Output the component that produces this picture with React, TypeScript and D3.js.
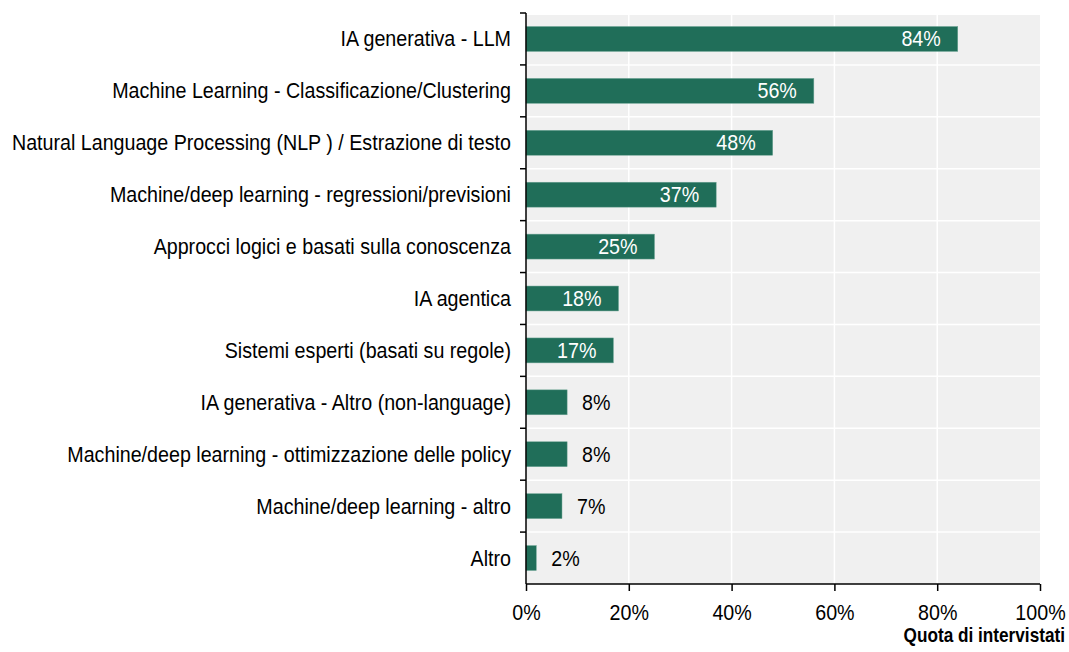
import React, { useEffect, useRef } from 'react';
import * as d3 from 'd3';

const categories = [
  'IA generativa - LLM',
  'Machine Learning - Classificazione/Clustering',
  'Natural Language Processing (NLP ) / Estrazione di testo',
  'Machine/deep learning - regressioni/previsioni',
  'Approcci logici e basati sulla conoscenza',
  'IA agentica',
  'Sistemi esperti (basati su regole)',
  'IA generativa - Altro (non-language)',
  'Machine/deep learning - ottimizzazione delle policy',
  'Machine/deep learning - altro ',
  'Altro',
];
const values = [84, 56, 48, 37, 25, 18, 17, 8, 8, 7, 2];
const xTicks = [0, 20, 40, 60, 80, 100];
const axisTitle = 'Quota di intervistati';

const FONT = '"Liberation Sans", Arial, sans-serif';
const SQUEEZE = 0.915; // reference uses a narrow face

const App = () => {
  const svgRef = useRef<SVGSVGElement>(null);

  useEffect(() => {
    const W = 1069;
    const H = 652;
    const margin = { top: 13, right: 29, bottom: 68, left: 526 };
    const width = W - margin.left - margin.right;
    const height = H - margin.top - margin.bottom;

    const root = d3.select(svgRef.current).attr('width', W).attr('height', H);
    root.selectAll('*').remove();

    const svg = root.append('g').attr('transform', `translate(${margin.left},${margin.top})`);

    const x = d3.scaleLinear().domain([0, 100]).range([0, width]);
    const y = d3.scaleBand().domain(categories).range([0, height]).paddingInner(0.52).paddingOuter(0.26);
    const bandEdge = (i: number) => (height / categories.length) * i;

    // panel background
    svg.append('rect').attr('x', 0).attr('y', 2).attr('width', width).attr('height', height - 2).attr('fill', '#f0f0f0');

    // vertical grid
    svg
      .selectAll('.vgrid')
      .data(xTicks.slice(1, -1))
      .enter()
      .append('line')
      .attr('x1', (d) => x(d))
      .attr('x2', (d) => x(d))
      .attr('y1', 2)
      .attr('y2', height)
      .attr('stroke', '#fff')
      .attr('stroke-width', 1.5);

    // horizontal separators between bands
    svg
      .selectAll('.hgrid')
      .data(d3.range(1, categories.length))
      .enter()
      .append('line')
      .attr('x1', 0)
      .attr('x2', width)
      .attr('y1', (d) => bandEdge(d))
      .attr('y2', (d) => bandEdge(d))
      .attr('stroke', '#fff')
      .attr('stroke-width', 1.5);

    // bars
    svg
      .selectAll('.bar')
      .data(values)
      .enter()
      .append('rect')
      .attr('x', 0)
      .attr('y', (d, i) => y(categories[i]))
      .attr('width', (d) => x(d))
      .attr('height', y.bandwidth())
      .attr('fill', '#206e59')
      .attr('stroke', '#6fa595')
      .attr('stroke-width', 0.5);

    // value labels
    svg
      .selectAll('.val')
      .data(values)
      .enter()
      .append('text')
      .attr('transform', (d, i) => {
        const tx = d >= 15 ? x(d) - 17 : x(d) + 15;
        return `translate(${tx},${y(categories[i]) + y.bandwidth() / 2}) scale(${SQUEEZE},1)`;
      })
      .attr('dy', '0.35em')
      .attr('text-anchor', (d) => (d >= 15 ? 'end' : 'start'))
      .attr('fill', (d) => (d >= 15 ? '#fff' : '#000'))
      .style('font-family', FONT)
      .style('font-size', '21.5px')
      .text((d) => `${d}%`);

    // y axis
    const yAxis = svg.append('g');
    yAxis
      .append('line')
      .attr('x1', 0)
      .attr('x2', 0)
      .attr('y1', 0)
      .attr('y2', height)
      .attr('stroke', '#000')
      .attr('stroke-width', 1.5);
    yAxis
      .selectAll('.ytick')
      .data(d3.range(0, categories.length))
      .enter()
      .append('line')
      .attr('x1', -6)
      .attr('x2', 0)
      .attr('y1', (d) => bandEdge(d))
      .attr('y2', (d) => bandEdge(d))
      .attr('stroke', '#000')
      .attr('stroke-width', 1.5);
    yAxis
      .selectAll('.ylab')
      .data(categories)
      .enter()
      .append('text')
      .attr('transform', (d) => `translate(-15,${y(d) + y.bandwidth() / 2}) scale(${SQUEEZE},1)`)
      .attr('dy', '0.35em')
      .attr('text-anchor', 'end')
      .attr('fill', '#000')
      .style('font-family', FONT)
      .style('font-size', '21.5px')
      .text((d) => d);

    // x axis
    const xAxis = d3
      .axisBottom(x)
      .tickValues(xTicks)
      .tickSize(7)
      .tickPadding(14)
      .tickFormat((d) => `${d}%`);
    const gx = svg.append('g').attr('transform', `translate(0,${height})`).call(xAxis);
    gx.select('.domain').attr('stroke-width', 1.5).attr('d', `M0,0H${width}`);
    gx.selectAll('.tick line').attr('stroke-width', 1.5);
    gx.selectAll('.tick text')
      .attr('transform', `scale(${SQUEEZE},1)`)
      .style('font-family', FONT)
      .style('font-size', '21.5px')
      .attr('fill', '#000');

    svg
      .append('text')
      .attr('transform', `translate(${width + 25},${height + 58}) scale(0.86,1)`)
      .attr('text-anchor', 'end')
      .style('font-family', FONT)
      .style('font-size', '20px')
      .style('font-weight', 'bold')
      .text(axisTitle);
  }, []);

  return <svg ref={svgRef} style={{ position: 'absolute', left: 0, top: 0 }}></svg>;
};

export default App;
